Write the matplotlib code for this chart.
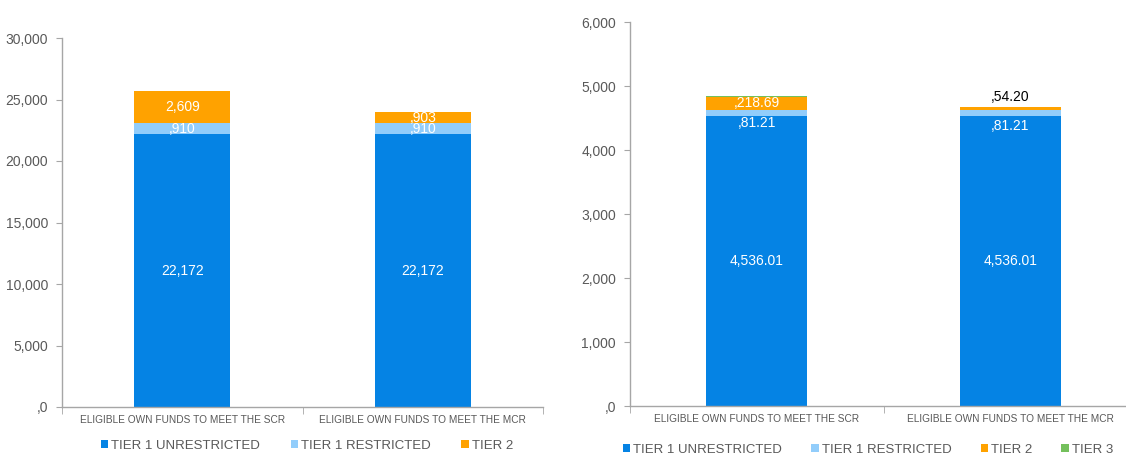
import numpy as np
import matplotlib
matplotlib.use("Agg")
import matplotlib.pyplot as plt
from matplotlib.ticker import FuncFormatter, FixedLocator

plt.rcParams["font.family"] = ["Liberation Sans", "DejaVu Sans"]

categories = ["ELIGIBLE OWN FUNDS TO MEET THE SCR", "ELIGIBLE OWN FUNDS TO MEET THE MCR"]

# left chart
left_tiers = ["TIER 1 UNRESTRICTED", "TIER 1 RESTRICTED", "TIER 2"]
left_t1_unres = [22172, 22172]
left_t1_res = [910, 910]
left_t2 = [2609, 903]

# right chart
right_tiers = ["TIER 1 UNRESTRICTED", "TIER 1 RESTRICTED", "TIER 2", "TIER 3"]
right_t1_unres = [4536.01, 4536.01]
right_t1_res = [81.21, 81.21]
right_t2 = [218.69, 54.20]
right_t3 = [10.0, 0.0]

COLORS = ["#0583E4", "#92CDFB", "#FFA200", "#74C05C"]
GRAY = "#595959"
AXIS = "#A6A6A6"


def excel_fmt(v, dec=0):
    s = f"{v:,.{dec}f}"
    if abs(v) < 1000:
        s = "," + s
    return s


def style_axes(ax, ymax, step):
    ax.set_xlim(-0.5, 1.5)
    ax.set_ylim(0, ymax)
    ax.set_yticks(np.arange(0, ymax + 1, step))
    ax.yaxis.set_major_formatter(FuncFormatter(lambda v, p: excel_fmt(v)))
    ax.set_xticks([0, 1])
    ax.set_xticklabels(categories, fontsize=7.3, color=GRAY)
    ax.xaxis.set_minor_locator(FixedLocator([-0.5, 0.5, 1.5]))
    ax.tick_params(axis="x", which="major", length=0, pad=6)
    ax.tick_params(axis="x", which="minor", length=5, color=AXIS)
    ax.tick_params(axis="y", length=4, color=AXIS, labelsize=10, labelcolor=GRAY, pad=6)
    for s in ["top", "right"]:
        ax.spines[s].set_visible(False)
    for s in ["left", "bottom"]:
        ax.spines[s].set_color(AXIS)
        ax.spines[s].set_linewidth(1.0)


def seg_label(ax, x, y, text, color="white", dy=0):
    ax.annotate(text, (x, y), xytext=(0, dy), textcoords="offset points",
                ha="center", va="center", fontsize=10, color=color)


fig = plt.figure(figsize=(11.26, 4.55), dpi=100)

# ---------- left chart ----------
ax1 = fig.add_axes([62 / 1126, 1 - 407 / 455, 481 / 1126, 369 / 455])
x = np.arange(len(categories))
w = 0.4
b1 = np.array(left_t1_unres)
b2 = b1 + np.array(left_t1_res)
ax1.bar(x, left_t1_unres, w, color=COLORS[0], label=left_tiers[0], zorder=2)
ax1.bar(x, left_t1_res, w, bottom=b1, color=COLORS[1], label=left_tiers[1], zorder=2)
ax1.bar(x, left_t2, w, bottom=b2, color=COLORS[2], label=left_tiers[2], zorder=2)
style_axes(ax1, 30000, 5000)
for i in range(len(categories)):
    seg_label(ax1, x[i], left_t1_unres[i] / 2, excel_fmt(left_t1_unres[i]))
    seg_label(ax1, x[i], b1[i] + left_t1_res[i] / 2, excel_fmt(left_t1_res[i]))
    seg_label(ax1, x[i], b2[i] + left_t2[i] / 2, excel_fmt(left_t2[i]))

fig.legend(*ax1.get_legend_handles_labels(), loc="center", bbox_to_anchor=(307 / 1126, 1 - 446 / 455),
           ncol=3, frameon=False, fontsize=9.5, labelcolor=GRAY, handlelength=0.55, handleheight=0.55,
           handletextpad=0.25, columnspacing=2.3, borderaxespad=0)

# ---------- right chart ----------
ax2 = fig.add_axes([630 / 1126, 1 - 406 / 455, 507 / 1126, 384 / 455])
r1 = np.array(right_t1_unres)
r2 = r1 + np.array(right_t1_res)
r3 = r2 + np.array(right_t2)
ax2.bar(x, right_t1_unres, w, color=COLORS[0], label=right_tiers[0], zorder=2)
ax2.bar(x, right_t1_res, w, bottom=r1, color=COLORS[1], label=right_tiers[1], zorder=2)
ax2.bar(x, right_t2, w, bottom=r2, color=COLORS[2], label=right_tiers[2], zorder=2)
ax2.bar(x, right_t3, w, bottom=r3, color=COLORS[3], label=right_tiers[3], zorder=2)
style_axes(ax2, 6000, 1000)
for i in range(len(categories)):
    seg_label(ax2, x[i], right_t1_unres[i] / 2, excel_fmt(right_t1_unres[i], 2))
    seg_label(ax2, x[i], r1[i] + right_t1_res[i] / 2, excel_fmt(right_t1_res[i], 2), dy=-7 if i == 0 else -9)
# tier 2 labels: inside for SCR, above bar for MCR
seg_label(ax2, x[0], r2[0] + right_t2[0] / 2, excel_fmt(right_t2[0], 2))
seg_label(ax2, x[1], r3[1], excel_fmt(right_t2[1], 2), color="black", dy=7)

fig.legend(*ax2.get_legend_handles_labels(), loc="center", bbox_to_anchor=(868 / 1126, 1 - 450 / 455),
           ncol=4, frameon=False, fontsize=9.5, labelcolor=GRAY, handlelength=0.55, handleheight=0.55,
           handletextpad=0.25, columnspacing=2.2, borderaxespad=0)

fig.savefig("out.png", dpi=100)
